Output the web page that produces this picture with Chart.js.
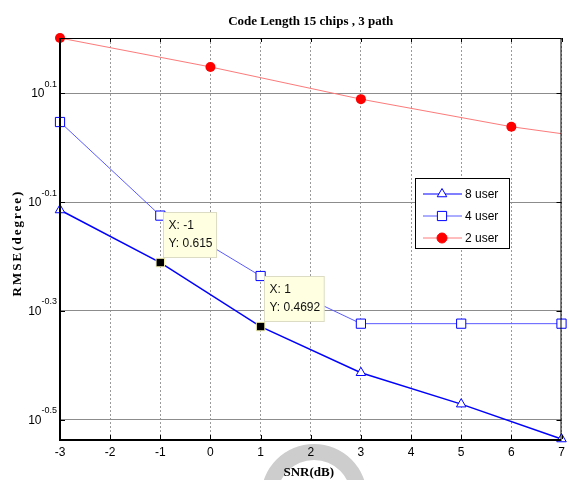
<!DOCTYPE html>
<html>
<head>
<meta charset="utf-8">
<script src="https://cdn.jsdelivr.net/npm/chart.js@4.4.1/dist/chart.umd.min.js"></script>
<style>
  html, body { margin: 0; padding: 0; background: #fff; }
  #wrap { width: 569px; height: 480px; }
</style>
</head>
<body>
<div id="wrap"><canvas id="rmseChart" width="569" height="480"></canvas></div>
<script>
// SNR (dB) and RMSE (degree) per user count
const snrTicks = [-3, -2, -1, 0, 1, 2, 3, 4, 5, 6, 7];
const snr8 = [-3, -1, 1, 3, 5, 7];
const rmse8 = [0.768, 0.615, 0.4692, 0.386, 0.338, 0.2917];
const snr4 = [-3, -1, 1, 3, 5, 7];
const rmse4 = [1.114, 0.750, 0.581, 0.475, 0.475, 0.475];
const snr2 = [-3, 0, 3, 6, 9];
const rmse2 = [1.589, 1.406, 1.227, 1.092, 1.0];
const yTickExp = [-0.5, -0.3, -0.1, 0.1];
const tipSnr = [-1, 1]; // data cursors on the 8 user curve

const SANS = "'Liberation Sans', Arial, sans-serif";
const SERIF = "'Liberation Serif', 'Times New Roman', serif";

const toPoints = (xs, ys) => xs.map((x, i) => ({ x, y: ys[i] }));
const isTip = ctx => tipSnr.includes(snr8[ctx.dataIndex]);

const series = [
  { label: '8 user', color: '#0000ff', style: 'triangle', radius: 5.5, fill: '#ffffff', line: '#0000ff' },
  { label: '4 user', color: '#0000ff', style: 'rect', radius: 6.5, fill: '#ffffff', line: '#5a5aff' },
  { label: '2 user', color: '#ff0000', style: 'circle', radius: 5, fill: '#ff0000', line: '#ff7a7a' },
];

const decor = {
  id: 'decor',
  beforeDraw(chart) {
    const { ctx } = chart;
    // faint ring stamp behind the x title
    ctx.save();
    ctx.beginPath();
    ctx.arc(314, 497, 53, Math.PI, 2 * Math.PI);
    ctx.arc(314, 497, 37, 2 * Math.PI, Math.PI, true);
    ctx.closePath();
    ctx.fillStyle = '#cdcdcd';
    ctx.fill();
    ctx.restore();
  },
  afterDraw(chart) {
    const { ctx, chartArea: a, scales } = chart;
    const xs = scales.x, ys = scales.y;
    const midX = (a.left + a.right) / 2;
    ctx.save();

    // title and x title
    ctx.fillStyle = '#000';
    ctx.font = 'bold 13px ' + SERIF;
    ctx.textAlign = 'center';
    ctx.textBaseline = 'middle';
    ctx.fillText('Code Length 15 chips , 3 path', midX, 22);
    ctx.fillText('SNR(dB)', midX - 2, 473);

    // axes box
    ctx.strokeStyle = '#000';
    ctx.lineWidth = 1;
    ctx.beginPath();
    ctx.moveTo(a.left, a.top + 0.5); ctx.lineTo(a.right, a.top + 0.5);
    ctx.moveTo(a.right - 0.5, a.top); ctx.lineTo(a.right - 0.5, a.bottom);
    ctx.stroke();
    ctx.lineWidth = 2;
    ctx.beginPath();
    ctx.moveTo(a.left, a.top); ctx.lineTo(a.left, a.bottom + 1);
    ctx.lineTo(a.right, a.bottom + 1);
    ctx.stroke();

    // inward tick marks
    ctx.lineWidth = 1;
    ctx.beginPath();
    snrTicks.forEach(v => {
      const px = Math.round(xs.getPixelForValue(v)) + 0.5;
      ctx.moveTo(px, a.bottom); ctx.lineTo(px, a.bottom - 4);
      ctx.moveTo(px, a.top); ctx.lineTo(px, a.top + 4);
    });
    yTickExp.forEach(e => {
      const py = Math.round(ys.getPixelForValue(Math.pow(10, e))) + 0.5;
      ctx.moveTo(a.left, py); ctx.lineTo(a.left + 5, py);
      ctx.moveTo(a.right, py); ctx.lineTo(a.right - 5, py);
    });
    ctx.stroke();

    // y tick labels as 10^e
    ctx.textAlign = 'left';
    ctx.textBaseline = 'middle';
    yTickExp.forEach(e => {
      const py = ys.getPixelForValue(Math.pow(10, e));
      const sup = String(e);
      ctx.font = '9px ' + SANS;
      const sw = ctx.measureText(sup).width;
      ctx.font = '12px ' + SANS;
      const bw = ctx.measureText('10').width;
      const right = a.left - 3;
      ctx.fillText('10', right - sw - bw, py + 1);
      ctx.font = '9px ' + SANS;
      ctx.fillText(sup, right - sw, py - 9);
    });

    // y title
    ctx.save();
    ctx.translate(18, 243);
    ctx.rotate(-Math.PI / 2);
    ctx.font = 'bold 13px ' + SERIF;
    ctx.letterSpacing = '2px';
    ctx.textAlign = 'center';
    ctx.fillText('RMSE(degree)', 0, 0);
    ctx.restore();

    // legend
    const lx = 415.5, ly = 178.5, lw = 94, lh = 70;
    ctx.fillStyle = '#fff';
    ctx.fillRect(lx, ly, lw, lh);
    ctx.strokeStyle = '#000';
    ctx.lineWidth = 1;
    ctx.strokeRect(lx, ly, lw, lh);
    series.forEach((s, i) => {
      const y = 194 + i * 22;
      ctx.strokeStyle = s.line;
      ctx.lineWidth = 1;
      ctx.beginPath();
      ctx.moveTo(423, y); ctx.lineTo(462, y);
      ctx.stroke();
      ctx.fillStyle = s.fill;
      ctx.strokeStyle = s.color;
      Chart.helpers.drawPoint(ctx, { pointStyle: s.style, radius: s.radius, rotation: 0, borderWidth: 1 }, 442, y);
      ctx.fillStyle = '#000';
      ctx.font = '12px ' + SANS;
      ctx.textAlign = 'left';
      ctx.textBaseline = 'middle';
      ctx.fillText(s.label, 465, y + 1);
    });

    // data cursor boxes
    const meta = chart.getDatasetMeta(0);
    snr8.forEach((x, i) => {
      if (!tipSnr.includes(x)) return;
      const el = meta.data[i];
      const lines = ['X: ' + x, 'Y: ' + rmse8[i]];
      ctx.font = '12px ' + SANS;
      const w = Math.max(...lines.map(t => ctx.measureText(t).width)) + 9;
      const h = 45;
      const bx = Math.round(el.x) + 3.5, by = Math.round(el.y) - 5.5 - h;
      ctx.fillStyle = '#ffffe1';
      ctx.fillRect(bx, by, w, h);
      ctx.strokeStyle = '#dcdcc4';
      ctx.strokeRect(bx, by, w, h);
      ctx.fillStyle = '#111';
      ctx.textAlign = 'left';
      ctx.textBaseline = 'middle';
      ctx.fillText(lines[0], bx + 5, by + 13);
      ctx.fillText(lines[1], bx + 5, by + 31);
    });

    ctx.restore();
  }
};

new Chart(document.getElementById('rmseChart'), {
  type: 'line',
  data: {
    datasets: [
      {
        label: '8 user',
        data: toPoints(snr8, rmse8),
        borderColor: '#0000ff',
        borderWidth: 1.5,
        pointStyle: ctx => isTip(ctx) ? 'rect' : 'triangle',
        pointRadius: ctx => isTip(ctx) ? 6 : 5.5,
        pointBackgroundColor: ctx => isTip(ctx) ? '#000000' : '#ffffff',
        pointBorderColor: ctx => isTip(ctx) ? '#f4f0b0' : '#0000ff',
        pointBorderWidth: 1,
        clip: false,
      },
      {
        label: '4 user',
        data: toPoints(snr4, rmse4),
        borderColor: '#5a5aff',
        borderWidth: 1,
        pointStyle: 'rect',
        pointRadius: 6.5,
        pointBackgroundColor: '#ffffff',
        pointBorderColor: '#0000ff',
        pointBorderWidth: 1,
        clip: false,
      },
      {
        label: '2 user',
        data: toPoints(snr2, rmse2),
        borderColor: '#ff7a7a',
        borderWidth: 1,
        pointStyle: 'circle',
        pointRadius: 5,
        pointBackgroundColor: '#ff0000',
        pointBorderColor: '#ff0000',
        pointBorderWidth: 0,
        clip: { left: 8, top: 8, right: 0, bottom: 8 },
      },
    ],
  },
  options: {
    responsive: false,
    animation: false,
    events: [],
    layout: { padding: { top: 38, right: 3, left: 0, bottom: 21 } },
    plugins: {
      legend: { display: false },
      tooltip: { enabled: false },
      title: { display: false },
    },
    scales: {
      x: {
        type: 'linear',
        min: -3,
        max: 7,
        afterBuildTicks: scale => { scale.ticks = snrTicks.map(v => ({ value: v })); },
        afterFit: scale => { scale.height = 20; scale.paddingLeft = 0; scale.paddingRight = 0; },
        ticks: { color: '#000', padding: 6, font: { family: SANS, size: 12 } },
        grid: { color: '#9a9a9a', drawTicks: false, lineWidth: 1 },
        border: { display: false, dash: [2, 2] },
      },
      y: {
        type: 'logarithmic',
        min: Math.min(...rmse8),
        max: Math.max(...rmse2),
        afterBuildTicks: scale => { scale.ticks = yTickExp.map(e => ({ value: Math.pow(10, e) })); },
        afterFit: scale => { scale.width = 60; },
        ticks: { display: false },
        grid: { color: '#8c8c8c', drawTicks: false, lineWidth: 1 },
        border: { display: false },
      },
    },
  },
  plugins: [decor],
});
</script>
</body>
</html>
